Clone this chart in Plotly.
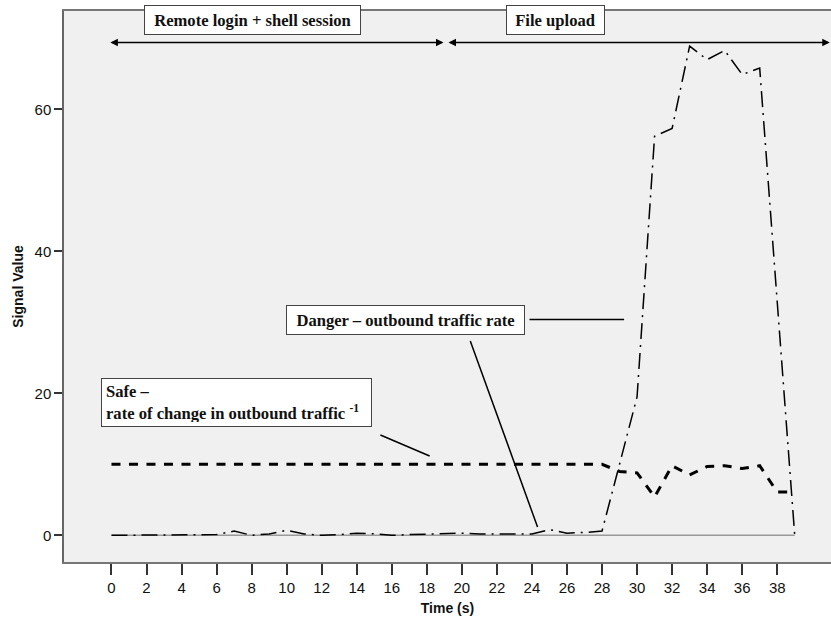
import plotly.graph_objects as go

time_s = list(range(0, 40))
danger = [0, 0, 0.05, 0, 0.05, 0, 0.1, 0.6, 0, 0.2,
          0.7, 0.2, 0, 0.1, 0.3, 0.2, 0, 0.1, 0.2, 0.3,
          0.3, 0.2, 0.2, 0.1, 0.2, 0.8, 0.3, 0.4, 0.6, 10.0,
          19.5, 56.2, 57.3, 68.9, 67.0, 68.3, 64.9, 65.8, 33.0, 0]
safe = [10] * 29 + [9.0, 8.8, 5.4, 9.8, 8.5, 9.7, 9.8, 9.4, 9.8, 6.1, 6.1]
baseline = [0] * 40
x_ticks = list(range(0, 40, 2))
y_ticks = [0, 20, 40, 60]

fig = go.Figure()
fig.add_trace(go.Scatter(x=time_s, y=baseline, mode="lines",
                         line=dict(color="#9a9a9a", width=1.5), showlegend=False))
fig.add_trace(go.Scatter(x=time_s, y=safe, mode="lines",
                         line=dict(color="black", width=3, dash="9px,8.5px"), showlegend=False))
fig.add_trace(go.Scatter(x=time_s, y=danger, mode="lines",
                         line=dict(color="black", width=1.5, dash="16px,6px,2px,6px"), showlegend=False))

serif = "Times New Roman"
box = dict(bgcolor="white", bordercolor="#444", borderwidth=1,
           showarrow=False, xref="x", yref="y", font=dict(family=serif, size=16.6, color="#111"))

fig.add_annotation(text="<b>Remote login + shell session</b>", x=8.03, y=72.6, width=215, height=28, borderpad=0, **box)
fig.add_annotation(text="<b>File upload</b>", x=25.32, y=72.65, width=97, height=28, borderpad=0, **box)
fig.add_annotation(text="<b>Danger – outbound traffic rate</b>", x=16.8, y=30.3, width=237, height=28, borderpad=0, **box)
fig.add_annotation(text="<b>Safe –<br>rate of change in outbound traffic <sup>-1</sup></b>",
                   x=7.15, y=18.77, width=261, height=39, borderpad=4, align="left", **box)

# double-headed arrows
for x0, x1 in [(-0.15, 18.95), (19.15, 41.0)]:
    fig.add_annotation(x=x1, y=69.4, ax=x0, ay=69.4, xref="x", yref="y", axref="x", ayref="y",
                       text="", showarrow=True, arrowhead=2, startarrowhead=2, arrowside="end+start",
                       arrowsize=1, startarrowsize=1, arrowwidth=1.5, arrowcolor="black")

# leader lines
for (x0, y0, x1, y1) in [(23.86, 30.4, 29.26, 30.4), (20.48, 27.37, 24.32, 1.17), (15.35, 14.13, 18.16, 11.17)]:
    fig.add_shape(type="line", x0=x0, y0=y0, x1=x1, y1=y1, xref="x", yref="y",
                  line=dict(color="black", width=1.5))

sans = "Arial"
fig.update_layout(
    width=831, height=624,
    margin=dict(l=64, r=0, t=11, b=62),
    paper_bgcolor="white", plot_bgcolor="#f0f0f0",
    showlegend=False,
    xaxis=dict(range=[-2.71, 41.07], tickvals=x_ticks, ticktext=[str(v) for v in x_ticks],
               showgrid=False, zeroline=False, showline=True, linecolor="#777", linewidth=1.5,
               mirror=True, ticks="outside", ticklen=11, tickcolor="#333", tickwidth=1.5,
               tickfont=dict(family=sans, size=15, color="#111"),
               title=dict(text="<b>Time (s)</b>", font=dict(family=sans, size=14, color="#111"), standoff=8)),
    yaxis=dict(range=[-3.76, 73.85], tickvals=y_ticks, showgrid=False, zeroline=False,
               showline=True, linecolor="#666", linewidth=1.5, ticks="outside", ticklen=8,
               tickcolor="#333", tickwidth=1.5,
               tickfont=dict(family=sans, size=15, color="#111"),
               title=dict(text="<b>Signal Value</b>", font=dict(family=sans, size=14, color="#111"), standoff=8)),
)

fig.write_html("out.html")
